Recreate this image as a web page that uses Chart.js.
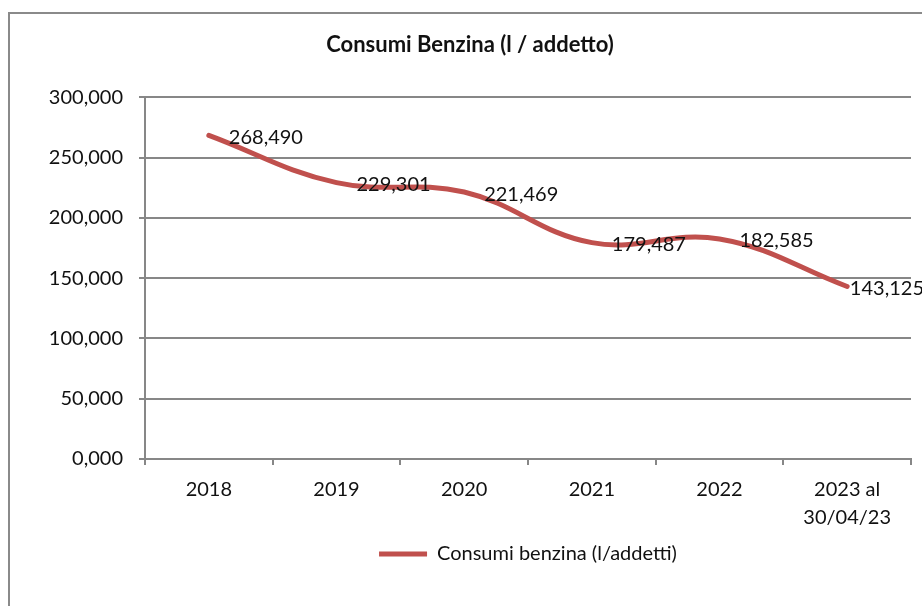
<!DOCTYPE html>
<html>
<head>
<meta charset="utf-8">
<script src="https://cdn.jsdelivr.net/npm/chart.js@4.4.1/dist/chart.umd.min.js"></script>
<style>
  html, body { margin: 0; padding: 0; background: #fff; overflow: hidden; }
  #frame {
    position: absolute; left: 8px; top: 12px;
    width: 940px; height: 620px;
    border: 2px solid #8a8a8a; box-sizing: border-box;
  }
  #chart { position: absolute; left: 0; top: 0; }
</style>
</head>
<body>
<div id="frame"></div>
<canvas id="chart" width="922" height="606"></canvas>
<script>
const anni = ["2018", "2019", "2020", "2021", "2022", ["2023 al", "30/04/23"]];
const consumi = [268.490, 229.301, 221.469, 179.487, 182.585, 143.125];
const tickY = [0, 50, 100, 150, 200, 250, 300];

const rosso = "#C0504D";
const grigio = "#878787";
const font = "Lato, 'Open Sans', sans-serif";

function virgola(v) {
    return v.toFixed(3).replace(".", ",");
}

// etichette dati a destra dei punti
const etichette = {
    id: "etichette",
    afterDatasetsDraw(chart) {
        const ctx = chart.ctx;
        const meta = chart.getDatasetMeta(0);
        ctx.save();
        ctx.font = "20px " + font;
        ctx.fillStyle = "#111";
        ctx.textAlign = "left";
        ctx.textBaseline = "middle";
        meta.data.forEach((p, i) => {
            const txt = virgola(consumi[i]);
            let x = p.x + 20;
            const w = ctx.measureText(txt).width;
            if (x + w > chart.width + 2) x = chart.width + 2 - w;
            ctx.fillText(txt, x, p.y + 2);
        });
        ctx.restore();
    }
};

const chart = new Chart(document.getElementById("chart"), {
    type: "line",
    data: {
        labels: anni,
        datasets: [{
            label: "Consumi benzina (l/addetti)",
            data: consumi,
            borderColor: rosso,
            backgroundColor: rosso,
            borderWidth: 5,
            borderCapStyle: "round",
            tension: 0.4,
            pointRadius: 0,
            pointHoverRadius: 0,
            pointStyle: "line"
        }]
    },
    options: {
        responsive: false,
        animation: false,
        layout: { padding: { left: 29, right: 11, top: 0, bottom: 32 } },
        plugins: {
            tooltip: { enabled: false },
            title: {
                display: true,
                text: "Consumi Benzina (l / addetto)",
                color: "#111",
                font: { family: font, size: 22, weight: "bold", lineHeight: 1.2 },
                padding: { top: 32, bottom: 39 }
            },
            legend: {
                position: "bottom",
                fullSize: false,
                labels: {
                    color: "#111",
                    font: { family: font, size: 20 },
                    usePointStyle: true,
                    pointStyle: "line",
                    pointStyleWidth: 48,
                    padding: 10
                }
            }
        },
        scales: {
            x: {
                offset: true,
                grid: {
                    display: true,
                    offset: true,
                    drawOnChartArea: false,
                    drawTicks: true,
                    tickLength: 6,
                    color: grigio,
                    lineWidth: 2
                },
                border: { color: grigio, width: 2 },
                ticks: {
                    color: "#111",
                    font: { family: font, size: 20, lineHeight: 1.4 },
                    padding: 11,
                    maxRotation: 0,
                    autoSkip: false
                },
                afterFit(scale) { scale.height = 75; }
            },
            y: {
                min: 0,
                max: 300,
                afterBuildTicks(scale) { scale.ticks = tickY.map(v => ({ value: v })); },
                grid: {
                    color: grigio,
                    lineWidth: 2,
                    drawTicks: true,
                    tickLength: 6
                },
                border: { color: grigio, width: 2 },
                ticks: {
                    color: "#111",
                    font: { family: font, size: 20 },
                    padding: 16,
                    callback: v => virgola(v)
                },
                afterFit(scale) { scale.width = 116; }
            }
        }
    },
    plugins: [etichette]
});
</script>
</body>
</html>
